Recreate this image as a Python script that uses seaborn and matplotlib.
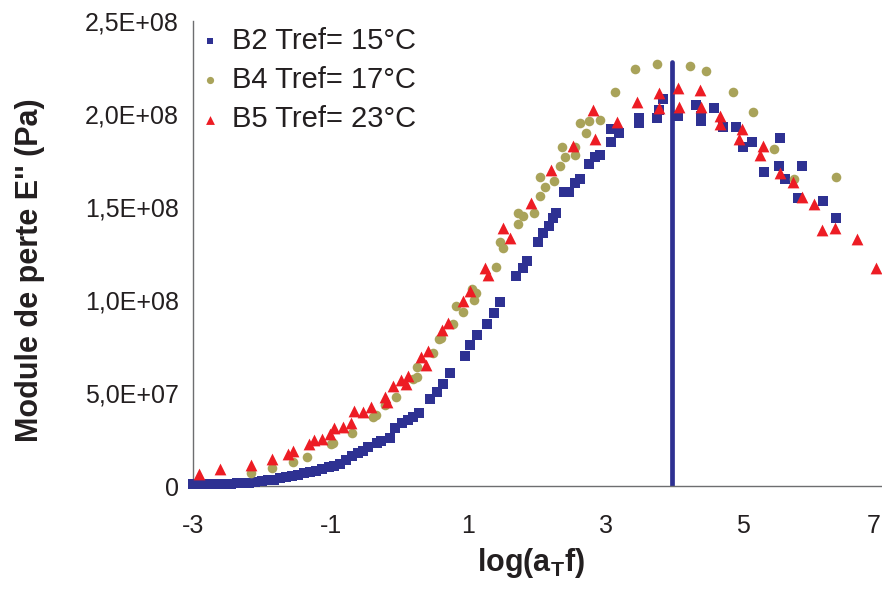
import numpy as np
import pandas as pd
import matplotlib
matplotlib.use("Agg")
import matplotlib.pyplot as plt
import seaborn as sns

# log(aT f) and E'' (in 1e8 Pa)
b2_x = [-3.00, -2.94, -2.85, -2.71, -2.62, -2.53, -2.45, -2.36, -2.27, -2.18,
        -2.10, -2.00, -1.91, -1.82, -1.73, -1.65, -1.56, -1.47, -1.38, -1.30,
        -1.21, -1.12, -1.03, -0.95, -0.86, -0.77, -0.69, -0.60, -0.53, -0.45,
        -0.32, -0.26, -0.13, -0.06, 0.04, 0.13, 0.20, 0.28, 0.45, 0.55,
        0.64, 0.74, 0.96, 1.03, 1.13, 1.28, 1.37, 1.47, 1.69, 1.79,
        1.86, 2.01, 2.09, 2.17, 2.23, 2.27, 2.39, 2.46, 2.56, 2.63,
        2.75, 2.85, 2.92, 3.07, 3.07, 3.19, 3.49, 3.49, 3.75, 3.77,
        3.83, 4.05, 4.31, 4.38, 4.38, 4.58, 4.70, 4.90, 4.99, 5.12,
        5.30, 5.52, 5.53, 5.60, 5.79, 5.85, 6.16, 6.35]
b2_y = [0.010, 0.010, 0.010, 0.010, 0.010, 0.012, 0.012, 0.015, 0.015, 0.017,
        0.020, 0.027, 0.030, 0.035, 0.045, 0.050, 0.055, 0.060, 0.070, 0.075,
        0.080, 0.090, 0.100, 0.110, 0.120, 0.140, 0.160, 0.180, 0.190, 0.210,
        0.230, 0.240, 0.260, 0.310, 0.340, 0.355, 0.370, 0.390, 0.470, 0.505,
        0.550, 0.610, 0.700, 0.760, 0.810, 0.870, 0.930, 0.990, 1.130, 1.170,
        1.210, 1.310, 1.360, 1.400, 1.440, 1.470, 1.580, 1.580, 1.630, 1.650,
        1.730, 1.770, 1.780, 1.850, 1.920, 1.900, 1.980, 1.950, 1.980, 2.020,
        2.080, 1.990, 2.050, 1.990, 1.960, 2.030, 1.930, 1.930, 1.820, 1.850,
        1.690, 1.720, 1.870, 1.650, 1.550, 1.720, 1.530, 1.440]

b4_x = [-2.16, -1.85, -1.54, -1.34, -0.99, -0.96, -0.69, -0.38, -0.34, -0.21,
        -0.05, 0.20, 0.25, 0.26, 0.49, 0.57, 0.60, 0.78, 0.93, 0.83,
        1.09, 1.06, 1.12, 1.41, 1.47, 1.51, 1.73, 1.80, 1.73, 1.95,
        2.04, 2.11, 2.04, 2.25, 2.33, 2.36, 2.41, 2.55, 2.55, 2.63,
        2.72, 2.76, 2.92, 3.14, 3.43, 3.74, 4.23, 4.45, 4.85, 5.14,
        5.44, 5.73, 6.35]
b4_y = [0.070, 0.097, 0.130, 0.156, 0.226, 0.230, 0.285, 0.370, 0.380, 0.435,
        0.480, 0.575, 0.586, 0.640, 0.715, 0.790, 0.795, 0.870, 0.935, 0.970,
        1.000, 1.060, 1.040, 1.180, 1.310, 1.280, 1.470, 1.450, 1.410, 1.470,
        1.560, 1.610, 1.660, 1.640, 1.720, 1.820, 1.770, 1.780, 1.820, 1.950,
        1.900, 1.960, 1.970, 2.120, 2.240, 2.270, 2.260, 2.230, 2.120, 2.010,
        1.810, 1.650, 1.660]

b5_x = [-2.91, -2.61, -2.16, -1.85, -1.62, -1.54, -1.31, -1.24, -1.12, -1.01,
        -0.95, -0.82, -0.71, -0.66, -0.53, -0.41, -0.21, -0.18, -0.09, 0.03,
        0.10, 0.13, 0.32, 0.41, 0.38, 0.62, 0.71, 0.93, 1.03, 1.24,
        1.29, 1.51, 1.61, 1.92, 2.21, 2.52, 2.84, 2.82, 3.16, 3.46,
        3.77, 3.77, 4.05, 4.07, 4.37, 4.38, 4.66, 4.66, 4.98, 4.93,
        5.28, 5.24, 5.54, 5.72, 5.85, 6.02, 6.14, 6.33, 6.65, 6.93]
b5_y = [0.065, 0.090, 0.113, 0.145, 0.172, 0.188, 0.226, 0.247, 0.253, 0.280,
        0.312, 0.317, 0.339, 0.403, 0.398, 0.425, 0.478, 0.452, 0.538, 0.570,
        0.548, 0.591, 0.694, 0.726, 0.650, 0.839, 0.876, 0.995, 1.048, 1.172,
        1.134, 1.387, 1.333, 1.522, 1.699, 1.828, 1.866, 2.022, 1.957, 2.065,
        2.113, 2.032, 2.140, 2.038, 2.129, 2.038, 1.989, 1.946, 1.919, 1.866,
        1.828, 1.780, 1.683, 1.634, 1.554, 1.516, 1.376, 1.387, 1.328, 1.172]

labels = ["B2 Tref= 15°C", "B4 Tref= 17°C", "B5 Tref= 23°C"]
peak_x = 3.96
peak_top = 2.28e8

yticks = [0, 0.5e8, 1.0e8, 1.5e8, 2.0e8, 2.5e8]
ytick_labels = ["0", "5,0E+07", "1,0E+08", "1,5E+08", "2,0E+08", "2,5E+08"]
xticks = [-3, -1, 1, 3, 5, 7]

sns.set_style("white")
plt.rcParams["font.family"] = ["Liberation Sans", "DejaVu Sans"]

fig = plt.figure(figsize=(8.82, 5.97), dpi=100)
ax = fig.add_axes([0.2188, 0.1859, 0.7800, 0.7789])

# vertical marker at the loss peak
ax.plot([peak_x, peak_x], [0, peak_top], color="#2e3192", lw=3.4, zorder=1)

series = [
    (b2_x, b2_y, "s", "#2e3192", 42),
    (b4_x, b4_y, "o", "#a9a35a", 48),
    (b5_x, b5_y, "^", "#ed1c24", 72),
]
for (xs, ys, m, c, s), lab in zip(series, labels):
    df = pd.DataFrame({"x": xs, "y": np.array(ys) * 1e8})
    sns.scatterplot(data=df, x="x", y="y", marker=m, color=c, s=s,
                    linewidth=0, label=lab, ax=ax, clip_on=False, zorder=3)

ax.set_xlim(-3, 7)
ax.set_ylim(0, 2.5e8)
ax.set_xticks(xticks)
ax.set_xticklabels([str(t) for t in xticks])
ax.set_yticks(yticks)
ax.set_yticklabels(ytick_labels)
# last x label sits at the figure edge: keep it inside
ax.get_xticklabels()[-1].set_horizontalalignment("right")

for side in ["top", "right"]:
    ax.spines[side].set_visible(False)
for side in ["left", "bottom"]:
    ax.spines[side].set_color("#6d6e70")
    ax.spines[side].set_linewidth(1.0)

ax.tick_params(axis="both", direction="out", length=6, width=1.0,
               color="#6d6e70", labelsize=18, labelcolor="#231f20")
ax.tick_params(axis="x", pad=14)
ax.tick_params(axis="y", pad=4)

ax.set_xlabel(r"log(a$_\mathregular{T}$f)", fontsize=22, fontweight="bold",
              color="#231f20")
ax.set_ylabel("Module de perte E'' (Pa)", fontsize=22, fontweight="bold",
              color="#231f20")
ax.xaxis.set_label_coords(0.491, -0.13)
ax.yaxis.set_label_coords(-0.215, 0.465)

leg = ax.legend(loc="upper left", bbox_to_anchor=(-0.013, 1.013),
                borderaxespad=0, frameon=False, fontsize=21, markerscale=0.75,
                handletextpad=0.26, labelspacing=0.39, handlelength=1.0)
for t in leg.get_texts():
    t.set_color("#231f20")

fig.savefig("out.png", dpi=100)
